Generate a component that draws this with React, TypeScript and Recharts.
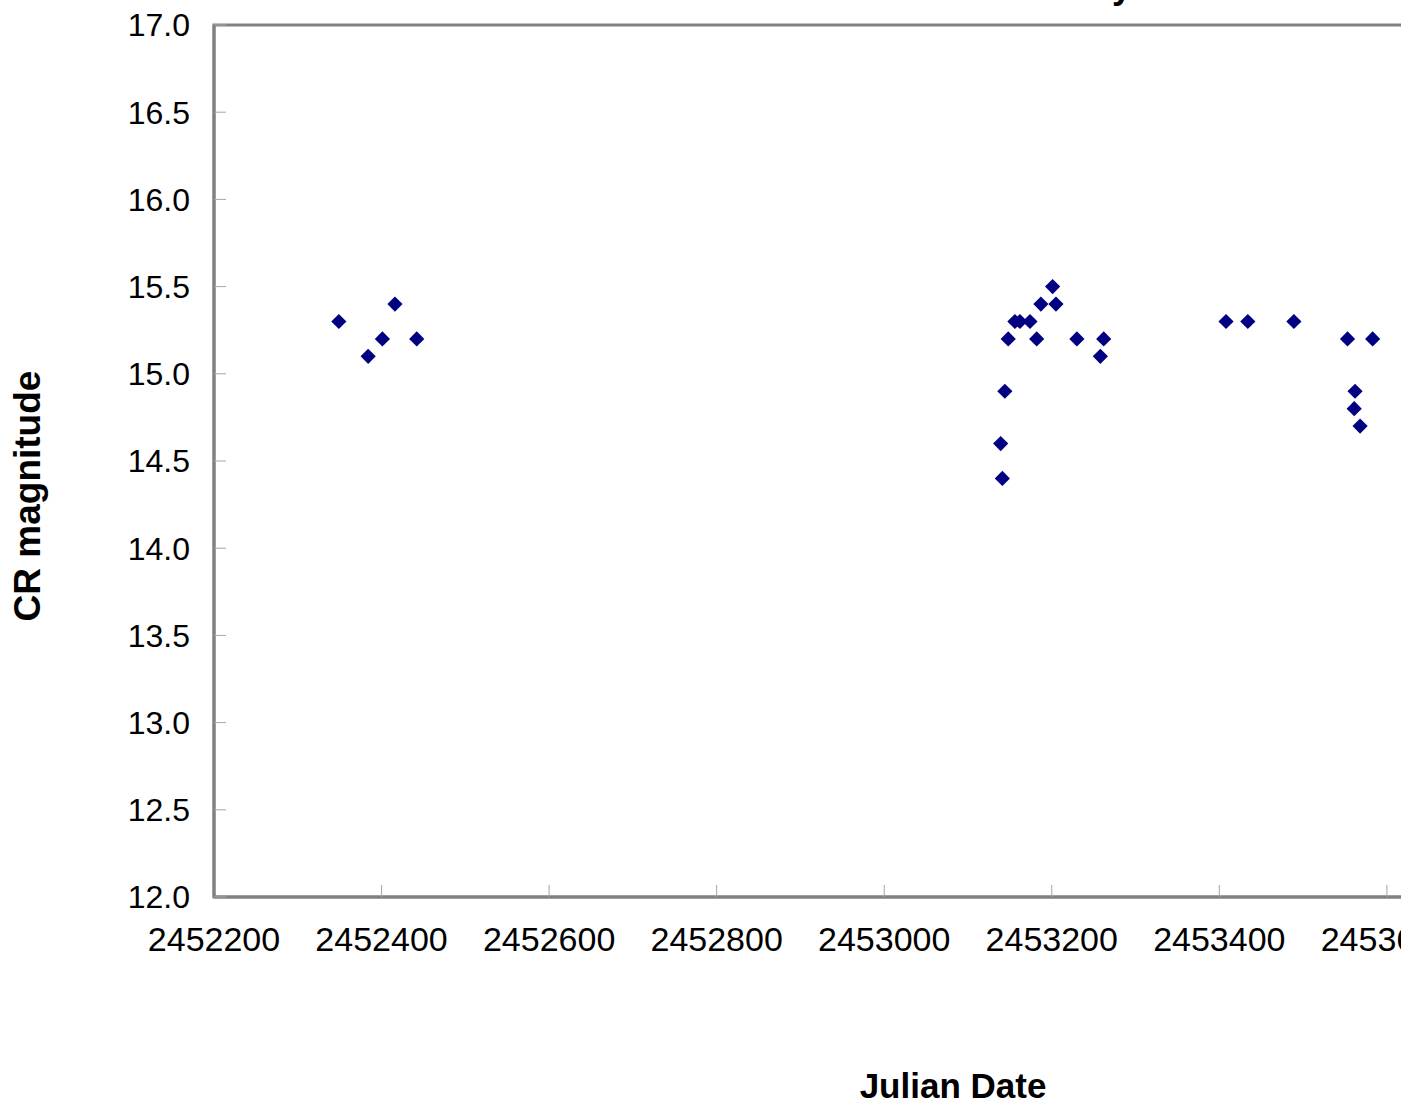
import React from 'react';
import { ScatterChart, Scatter, XAxis, YAxis, ReferenceArea, Label } from 'recharts';

const julianDates = [
  2452349, 2452384, 2452401, 2452416, 2452442,
  2453139, 2453141, 2453144, 2453148, 2453156, 2453162, 2453174, 2453182, 2453187,
  2453201, 2453205, 2453230, 2453258, 2453262,
  2453408, 2453434, 2453489, 2453553, 2453561, 2453562, 2453568, 2453583,
];
const magnitudes = [
  15.3, 15.1, 15.2, 15.4, 15.2,
  14.6, 14.4, 14.9, 15.2, 15.3, 15.3, 15.3, 15.2, 15.4,
  15.5, 15.4, 15.2, 15.1, 15.2,
  15.3, 15.3, 15.3, 15.2, 14.8, 14.9, 14.7, 15.2,
];
const xTicks = [2452200, 2452400, 2452600, 2452800, 2453000, 2453200, 2453400, 2453600, 2453800, 2454000];
const yTicks = [12, 12.5, 13, 13.5, 14, 14.5, 15, 15.5, 16, 16.5, 17];

const chartTitle = 'CR Variability';
const xTitle = 'Julian Date';
const yTitle = 'CR magnitude';

const data = julianDates.map((x, i) => ({ x, y: magnitudes[i] }));

const FONT = '"Liberation Sans", Arial, Helvetica, sans-serif';

const Diamond = (props: any) => {
  const { cx, cy } = props;
  const r = 7.6;
  return (
    <path
      d={`M${cx},${cy - r}L${cx + r},${cy}L${cx},${cy + r}L${cx - r},${cy}Z`}
      fill="#000080"
      stroke="none"
    />
  );
};

export default function App() {
  return (
    <div
      style={{
        position: 'fixed',
        left: 0,
        top: 0,
        width: 1401,
        height: 1111,
        overflow: 'hidden',
        background: '#ffffff',
      }}
    >
      <svg
        width={1401}
        height={1111}
        style={{ position: 'absolute', left: 0, top: 0, pointerEvents: 'none' }}
      >
        <text
          x={1132}
          y={-2.5}
          textAnchor="end"
          fontFamily={FONT}
          fontWeight="bold"
          fontSize={36}
          fill="#000"
        >
          {chartTitle}
        </text>
      </svg>
      <ScatterChart
        width={1722}
        height={1111}
        margin={{ top: 25, right: 0, bottom: 0, left: 0 }}
        style={{ position: 'absolute', left: 0, top: 0 }}
      >
        <XAxis
          type="number"
          dataKey="x"
          domain={[2452200, 2454000]}
          ticks={xTicks}
          interval={0}
          height={214}
          tickSize={-12}
          tickMargin={42}
          axisLine={{ stroke: '#808080', strokeWidth: 3 }}
          tickLine={{ stroke: '#a6a6a6', strokeWidth: 1 }}
          tick={{ fill: '#000', fontSize: 34, fontFamily: FONT }}
        >
          <Label
            content={() => (
              <text
                x={953}
                y={1098}
                textAnchor="middle"
                fontFamily={FONT}
                fontWeight="bold"
                fontSize={35}
                fill="#000"
              >
                {xTitle}
              </text>
            )}
          />
        </XAxis>
        <YAxis
          type="number"
          dataKey="y"
          domain={[12, 17]}
          ticks={yTicks}
          interval={0}
          width={214}
          tickSize={-12}
          tickMargin={36}
          tickFormatter={(v: number) => v.toFixed(1)}
          axisLine={{ stroke: '#808080', strokeWidth: 3 }}
          tickLine={{ stroke: '#a6a6a6', strokeWidth: 1 }}
          tick={{ fill: '#000', fontSize: 32, fontFamily: FONT }}
        >
          <Label
            content={() => (
              <text
                x={27}
                y={496}
                transform="rotate(-90 27 496)"
                textAnchor="middle"
                dominantBaseline="central"
                fontFamily={FONT}
                fontWeight="bold"
                fontSize={37}
                fill="#000"
              >
                {yTitle}
              </text>
            )}
          />
        </YAxis>
        <ReferenceArea
          x1={2452200}
          x2={2454000}
          y1={12}
          y2={17}
          fill="none"
          fillOpacity={0}
          stroke="#808080"
          strokeWidth={3}
          ifOverflow="visible"
        />
        <Scatter data={data} shape={Diamond} isAnimationActive={false} />
      </ScatterChart>
    </div>
  );
}
